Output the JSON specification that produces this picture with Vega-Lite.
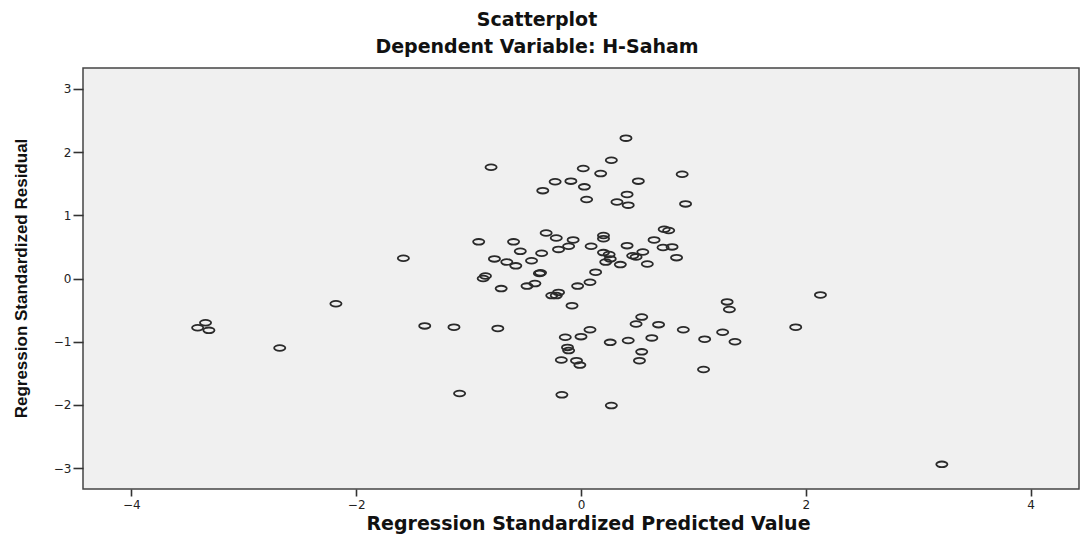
{
  "$schema": "https://vega.github.io/schema/vega-lite/v6.json",
  "width": 996,
  "height": 421,
  "autosize": {"type": "none"},
  "padding": {"left": 83, "top": 68, "right": 3, "bottom": 54},
  "background": "white",
  "title": {
    "text": ["Scatterplot", "Dependent Variable: H-Saham"],
    "font": "DejaVu Sans",
    "fontWeight": "bold",
    "fontSize": 19,
    "lineHeight": 26.7,
    "color": "#111",
    "anchor": "middle",
    "dx": -44,
    "offset": 11
  },
  "config": {
    "view": {"fill": "#f0f0f0", "stroke": "#444", "strokeWidth": 1.5},
    "axis": {
      "grid": false,
      "domain": false,
      "tickColor": "#333",
      "tickWidth": 1.6,
      "labelFont": "DejaVu Sans",
      "labelFontSize": 12,
      "labelColor": "#222",
      "titleColor": "#111",
      "titleFontWeight": "bold"
    }
  },
  "data": {
    "values": [
      {"pred": -3.41, "resid": -0.78},
      {"pred": -3.34, "resid": -0.70},
      {"pred": -3.31, "resid": -0.82},
      {"pred": -2.68, "resid": -1.10},
      {"pred": -2.18, "resid": -0.40},
      {"pred": -1.58, "resid": 0.32},
      {"pred": -1.39, "resid": -0.75},
      {"pred": -1.13, "resid": -0.77},
      {"pred": -1.08, "resid": -1.82},
      {"pred": -0.91, "resid": 0.58},
      {"pred": -0.80, "resid": 1.76},
      {"pred": -0.77, "resid": 0.31},
      {"pred": -0.85, "resid": 0.04},
      {"pred": -0.87, "resid": 0.00},
      {"pred": -0.74, "resid": -0.79},
      {"pred": -0.71, "resid": -0.16},
      {"pred": -0.66, "resid": 0.26},
      {"pred": -0.60, "resid": 0.58},
      {"pred": -0.58, "resid": 0.20},
      {"pred": -0.54, "resid": 0.43},
      {"pred": -0.48, "resid": -0.12},
      {"pred": -0.44, "resid": 0.28},
      {"pred": -0.41, "resid": -0.08},
      {"pred": -0.36, "resid": 0.09},
      {"pred": -0.37, "resid": 0.08},
      {"pred": -0.35, "resid": 0.40},
      {"pred": -0.34, "resid": 1.39},
      {"pred": -0.31, "resid": 0.72},
      {"pred": -0.26, "resid": -0.27},
      {"pred": -0.22, "resid": -0.27},
      {"pred": -0.20, "resid": -0.22},
      {"pred": -0.23, "resid": 1.53},
      {"pred": -0.22, "resid": 0.64},
      {"pred": -0.20, "resid": 0.46},
      {"pred": -0.175, "resid": -1.29},
      {"pred": -0.17, "resid": -1.84},
      {"pred": -0.14, "resid": -0.93},
      {"pred": -0.12, "resid": -1.09},
      {"pred": -0.11, "resid": -1.14},
      {"pred": -0.11, "resid": 0.51},
      {"pred": -0.09, "resid": 1.54},
      {"pred": -0.08, "resid": -0.43},
      {"pred": -0.07, "resid": 0.61},
      {"pred": -0.04, "resid": -1.30},
      {"pred": -0.03, "resid": -0.12},
      {"pred": -0.01, "resid": -1.37},
      {"pred": 0.00, "resid": -0.92},
      {"pred": 0.02, "resid": 1.74},
      {"pred": 0.03, "resid": 1.45},
      {"pred": 0.05, "resid": 1.25},
      {"pred": 0.08, "resid": -0.06},
      {"pred": 0.08, "resid": -0.81},
      {"pred": 0.09, "resid": 0.51},
      {"pred": 0.13, "resid": 0.10},
      {"pred": 0.175, "resid": 1.66},
      {"pred": 0.20, "resid": 0.68},
      {"pred": 0.20, "resid": 0.63},
      {"pred": 0.20, "resid": 0.41},
      {"pred": 0.25, "resid": 0.38},
      {"pred": 0.26, "resid": 0.31},
      {"pred": 0.22, "resid": 0.26},
      {"pred": 0.26, "resid": -1.01},
      {"pred": 0.27, "resid": 1.87},
      {"pred": 0.27, "resid": -2.01},
      {"pred": 0.32, "resid": 1.21},
      {"pred": 0.35, "resid": 0.22},
      {"pred": 0.40, "resid": 2.22},
      {"pred": 0.41, "resid": 1.33},
      {"pred": 0.42, "resid": 1.16},
      {"pred": 0.41, "resid": 0.52},
      {"pred": 0.42, "resid": -0.98},
      {"pred": 0.46, "resid": 0.36},
      {"pred": 0.49, "resid": 0.34},
      {"pred": 0.49, "resid": -0.72},
      {"pred": 0.51, "resid": 1.54},
      {"pred": 0.52, "resid": -1.30},
      {"pred": 0.54, "resid": -1.16},
      {"pred": 0.54, "resid": -0.61},
      {"pred": 0.55, "resid": 0.42},
      {"pred": 0.59, "resid": 0.23},
      {"pred": 0.63, "resid": -0.94},
      {"pred": 0.65, "resid": 0.61},
      {"pred": 0.69, "resid": -0.73},
      {"pred": 0.73, "resid": 0.49},
      {"pred": 0.74, "resid": 0.78},
      {"pred": 0.78, "resid": 0.76},
      {"pred": 0.81, "resid": 0.50},
      {"pred": 0.85, "resid": 0.33},
      {"pred": 0.90, "resid": 1.65},
      {"pred": 0.91, "resid": -0.81},
      {"pred": 0.93, "resid": 1.18},
      {"pred": 1.09, "resid": -1.44},
      {"pred": 1.10, "resid": -0.96},
      {"pred": 1.26, "resid": -0.85},
      {"pred": 1.30, "resid": -0.37},
      {"pred": 1.32, "resid": -0.49},
      {"pred": 1.37, "resid": -1.00},
      {"pred": 1.91, "resid": -0.77},
      {"pred": 2.13, "resid": -0.26},
      {"pred": 3.21, "resid": -2.94}
    ]
  },
  "mark": {
    "type": "point",
    "filled": false,
    "shape": "M -1 0 C -1 -0.282 -0.552 -0.51 0 -0.51 C 0.552 -0.51 1 -0.282 1 0 C 1 0.282 0.552 0.51 0 0.51 C -0.552 0.51 -1 0.282 -1 0 Z",
    "size": 125,
    "stroke": "#2a2a2a",
    "strokeWidth": 1.8,
    "opacity": 1
  },
  "encoding": {
    "x": {
      "field": "pred",
      "type": "quantitative",
      "scale": {"domain": [-4.43, 4.43], "nice": false, "zero": false},
      "axis": {
        "values": [-4, -2, 0, 2, 4],
        "format": "d",
        "tickSize": 7,
        "labelPadding": 3,
        "title": "Regression Standardized Predicted Value",
        "titleFont": "DejaVu Sans",
        "titleFontSize": 19,
        "titleBaseline": "alphabetic",
        "titleX": 505,
        "titleY": 40
      }
    },
    "y": {
      "field": "resid",
      "type": "quantitative",
      "scale": {"domain": [-3.33, 3.33], "nice": false, "zero": false},
      "axis": {
        "values": [-3, -2, -1, 0, 1, 2, 3],
        "format": "d",
        "tickSize": 10,
        "labelPadding": 2,
        "title": "Regression Standardized Residual",
        "titleFont": "Liberation Sans",
        "titleFontSize": 17,
        "titleAngle": 270,
        "titleAlign": "center",
        "titleBaseline": "alphabetic",
        "titleX": -57,
        "titleY": 210
      }
    }
  }
}
